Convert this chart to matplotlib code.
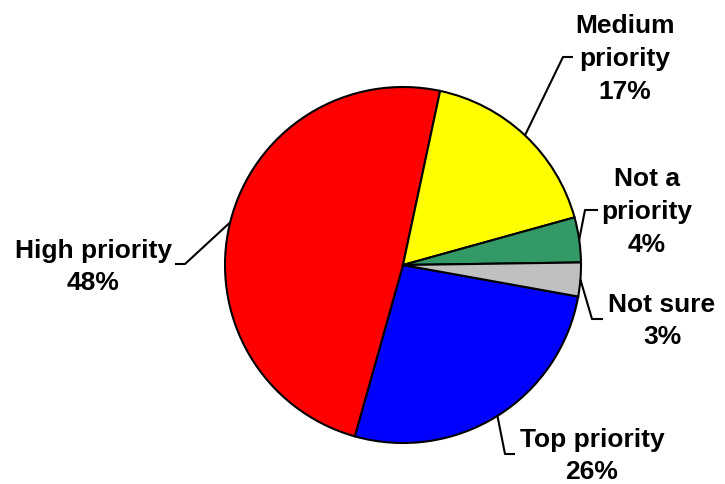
import matplotlib.pyplot as plt
import numpy as np

plt.rcParams["font.family"] = ["Liberation Sans", "DejaVu Sans"]

categories = ["Top priority", "High priority", "Medium priority", "Not a priority", "Not sure"]
label_text = ["Top priority", "High priority", "Medium\npriority", "Not a\npriority", "Not sure"]
shares = [26, 48, 17, 4, 3]
colors = ["#0000FF", "#FF0000", "#FFFF00", "#339966", "#C0C0C0"]

W, H = 725, 485
CX, CY, R = 403, H - 266, 178

# elbow of each leader line and where its label sits (pixel units, y up)
elbows = [(505, H - 455), (185, H - 265), (563, H - 58), (585, H - 211), (592, H - 320)]
elbow_ends = [(515, H - 455), (175, H - 265), (573, H - 58), (598, H - 211), (603, H - 320)]
text_pos = [(592, H - 456), (93, H - 267), (625, H - 59), (647, H - 212), (662, H - 321)]

fig = plt.figure(figsize=(W / 100, H / 100), dpi=100)
ax = fig.add_axes([0, 0, 1, 1])

wedges, _ = ax.pie(
    shares,
    colors=colors,
    startangle=-10.2,
    counterclock=False,
    center=(CX, CY),
    radius=R,
    wedgeprops={"edgecolor": "black", "linewidth": 1.5},
    frame=True,
)
ax.set_xlim(0, W)
ax.set_ylim(0, H)
ax.set_aspect("equal")
ax.axis("off")

for wedge, txt, share, elbow, end, pos in zip(
    wedges, label_text, shares, elbows, elbow_ends, text_pos
):
    mid = np.deg2rad((wedge.theta1 + wedge.theta2) / 2)
    x0 = CX + R * np.cos(mid)
    y0 = CY + R * np.sin(mid)
    ax.plot([x0, elbow[0], end[0]], [y0, elbow[1], end[1]],
            color="black", linewidth=1.5, solid_capstyle="butt")
    ax.text(pos[0], pos[1], f"{txt}\n{share}%", ha="center", va="center",
            fontsize=19, fontweight="bold", linespacing=1.45)

fig.savefig("out.png", dpi=100)
